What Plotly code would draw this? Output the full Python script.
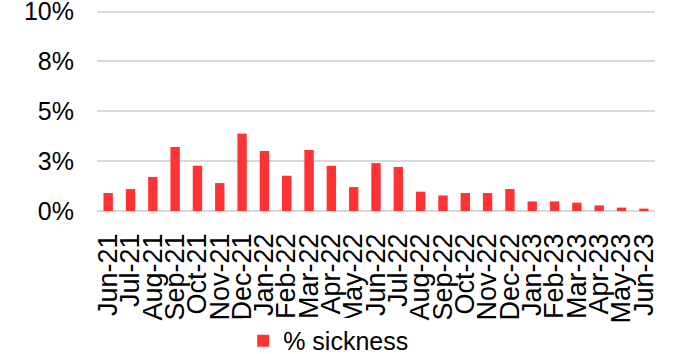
import plotly.graph_objects as go

months = ["Jun-21", "Jul-21", "Aug-21", "Sep-21", "Oct-21", "Nov-21", "Dec-21",
          "Jan-22", "Feb-22", "Mar-22", "Apr-22", "May-22", "Jun-22", "Jul-22",
          "Aug-22", "Sep-22", "Oct-22", "Nov-22", "Dec-22", "Jan-23", "Feb-23",
          "Mar-23", "Apr-23", "May-23", "Jun-23"]
sickness_pct = [0.90, 1.10, 1.71, 3.21, 2.27, 1.40, 3.88,
                3.01, 1.77, 3.06, 2.27, 1.20, 2.40, 2.21,
                0.97, 0.78, 0.90, 0.90, 1.10, 0.48, 0.48,
                0.42, 0.28, 0.17, 0.12]
y_tickvals = [0, 2.5, 5, 7.5, 10]
y_ticktext = ["0%", "3%", "5%", "8%", "10%"]

FONT = "Liberation Sans, Arial, sans-serif"

fig = go.Figure()
fig.add_trace(go.Bar(
    x=months, y=sickness_pct, name="% sickness",
    marker=dict(color="#ff3333", line=dict(width=0)),
    width=0.42,
))
fig.update_layout(
    width=677, height=354,
    margin=dict(l=97, r=22, t=10, b=143, autoexpand=False),
    paper_bgcolor="white", plot_bgcolor="white",
    font=dict(family=FONT, size=25, color="#000000"),
    showlegend=True,
    legend=dict(orientation="h", x=0.262, xanchor="left",
                yref="container", y=0.037, yanchor="middle",
                font=dict(family=FONT, size=25)),
)
fig.update_xaxes(
    tickangle=-90, showgrid=False, showline=False, ticks="",
    tickmode="array", tickvals=months, ticktext=months,
    tickfont=dict(family=FONT, size=27), automargin=False,
    ticklabelstandoff=16,
)
fig.update_yaxes(
    range=[0, 10.08], tickvals=y_tickvals, ticktext=y_ticktext,
    showgrid=True, gridcolor="#d9d9d9", gridwidth=2,
    zeroline=True, zerolinecolor="#d9d9d9", zerolinewidth=2,
    showline=False, ticks="", ticklabeloverflow="allow",
    tickfont=dict(family=FONT, size=25), automargin=False,
    ticklabelstandoff=22,
)
fig.write_html("out.html", config={"displayModeBar": False},
               post_script="document.body.style.margin='0';")
